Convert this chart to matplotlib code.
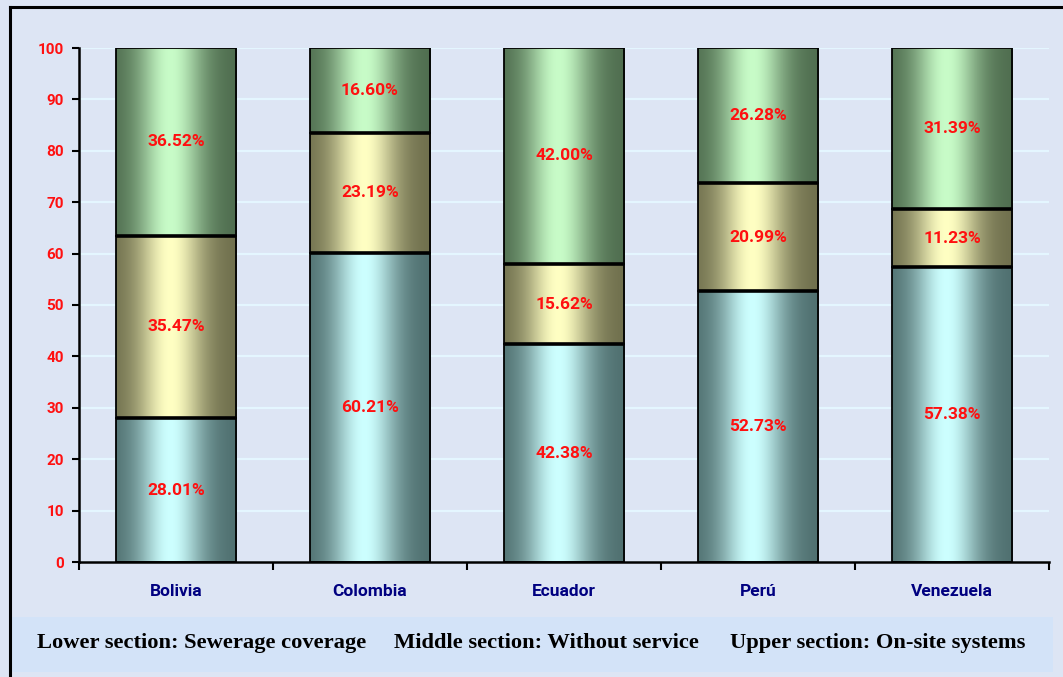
import numpy as np
import matplotlib
matplotlib.use("Agg")
import matplotlib.pyplot as plt
from matplotlib.patches import Rectangle
from matplotlib.lines import Line2D

# Coverage shares (%) per country, stacked bottom -> top
countries = ["Bolivia", "Colombia", "Ecuador", "Perú", "Venezuela"]
sewerage = [28.01, 60.21, 42.38, 52.73, 57.38]
without_service = [35.47, 23.19, 15.62, 20.99, 11.23]
on_site = [36.52, 16.60, 42.00, 26.28, 31.39]
y_ticks = [0, 10, 20, 30, 40, 50, 60, 70, 80, 90, 100]

legend_texts = ["Lower section: Sewerage coverage",
                "Middle section: Without service",
                "Upper section: On-site systems"]

NARROW = ["Roboto", "DejaVu Sans"]

W, H = 1063, 677
fig = plt.figure(figsize=(W / 100, H / 100), dpi=100)
fig.patch.set_facecolor("#dde5f4")

# legend band at the bottom
fig.patches.append(Rectangle((12 / W, 1 - 672 / H), (1053 - 12) / W, (672 - 617) / H,
                             transform=fig.transFigure, facecolor="#d3e3f8",
                             edgecolor="none", zorder=0))
# outer frame (left and top edges)
fig.lines.append(Line2D([10 / W, 10 / W], [0, 1 - 7 / H], transform=fig.transFigure,
                        color="black", lw=2.2))
fig.lines.append(Line2D([10 / W, 1], [1 - 7 / H, 1 - 7 / H], transform=fig.transFigure,
                        color="black", lw=2.2))

ax = fig.add_axes([79 / W, 1 - 562 / H, (1049 - 79) / W, (562 - 48) / H])
ax.set_facecolor("none")


def cylinder(dark, light, n=200):
    t = np.linspace(0, 1, n)
    s = np.exp(-((t - 0.45) / 0.27) ** 2)
    dark = np.array(dark) / 255.0
    light = np.array(light) / 255.0
    return (dark[None, :] * (1 - s[:, None]) + light[None, :] * s[:, None])[None, :, :]


shades = [cylinder((78, 110, 110), (205, 255, 255)),
          cylinder((110, 110, 76), (255, 255, 195)),
          cylinder((78, 108, 78), (200, 252, 200))]

bar_w = 0.62
for i, name in enumerate(countries):
    segs = [sewerage[i], without_service[i], on_site[i]]
    x0 = i + 0.5 - bar_w / 2
    x1 = i + 0.5 + bar_w / 2
    base = 0.0
    for k, v in enumerate(segs):
        ax.imshow(shades[k], extent=[x0, x1, base, base + v], aspect="auto",
                  interpolation="bilinear", zorder=2)
        ax.add_patch(Rectangle((x0, base), bar_w, v, facecolor="none",
                               edgecolor="black", lw=1.3, zorder=3))
        ax.text(i + 0.5, base + v / 2, f"{v:.2f}%", color="#ff1010",
                fontsize=12.5, fontweight="bold", ha="center", va="center",
                family=NARROW, zorder=5)
        base += v
        if k < 2:
            ax.plot([x0, x1], [base, base], color="black", lw=2.6, zorder=4,
                    solid_capstyle="butt")

ax.set_xlim(0, len(countries))
ax.set_ylim(0, 100)
ax.set_yticks(y_ticks)
ax.set_xticks(np.arange(len(countries) + 1))
ax.set_xticklabels([])
ax.set_xticks(np.arange(len(countries)) + 0.5, minor=True)
ax.set_xticklabels(countries, minor=True)
ax.tick_params(axis="x", which="minor", length=0, pad=16, labelsize=12.5,
               labelcolor="#000080")
ax.tick_params(axis="x", which="major", length=6, width=1.5, direction="out")
ax.tick_params(axis="y", length=5, width=1.5, direction="out", pad=6,
               labelsize=11, labelcolor="#ff1010")
for lab in ax.get_xticklabels(minor=True) + ax.get_yticklabels():
    lab.set_fontweight("bold")
    lab.set_family(NARROW)
for s in ["top", "right"]:
    ax.spines[s].set_visible(False)
for s in ["left", "bottom"]:
    ax.spines[s].set_linewidth(1.8)
ax.set_axisbelow(True)
ax.yaxis.grid(True, color="#e4f6ff", lw=1.6, zorder=0)

xs = [37, 394, 730]
for x, t in zip(xs, legend_texts):
    fig.text(x / W, 1 - 643 / H, t, family="Liberation Serif", fontweight="bold",
             fontsize=16.2, ha="left", va="center", color="black")

fig.savefig("out.png", dpi=100, facecolor=fig.get_facecolor())
